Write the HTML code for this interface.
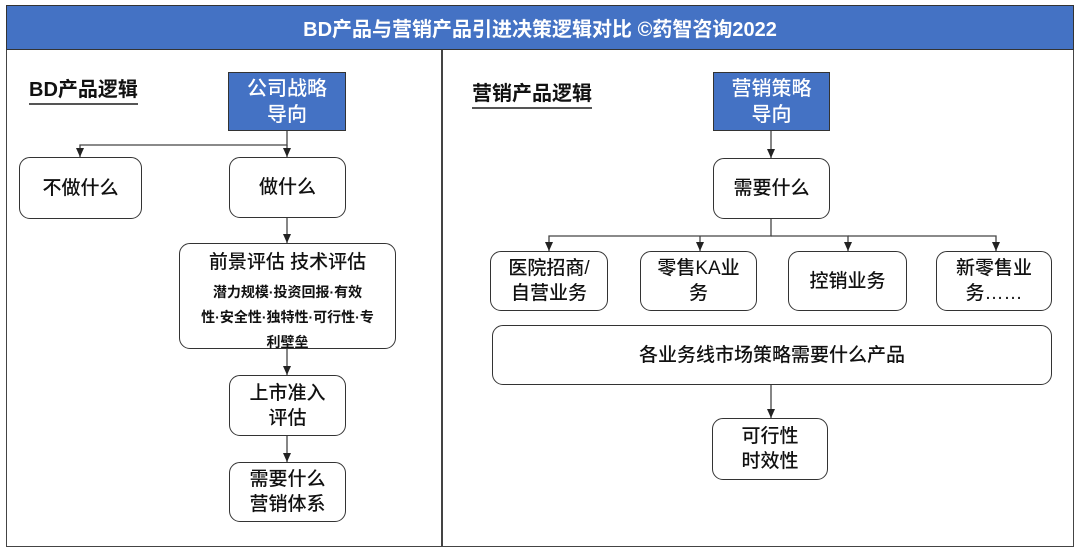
<!DOCTYPE html>
<html><head><meta charset="utf-8"><style>
body{margin:0;width:1080px;height:552px;background:#fff;position:relative;overflow:hidden;font-family:"Liberation Sans","Noto Sans CJK SC",sans-serif;}
.b{position:absolute;box-sizing:border-box;border:1.5px solid #333;border-radius:11px;background:#fff;display:flex;align-items:center;justify-content:center;text-align:center;font-size:19px;line-height:25px;color:#111;font-weight:500;}
.blue{position:absolute;box-sizing:border-box;border:1.5px solid #333;background:#4472c4;color:#fff;display:flex;align-items:center;justify-content:center;text-align:center;font-size:20px;line-height:26px;font-weight:500;}
.t{position:absolute;font-weight:bold;font-size:20px;color:#111;border-bottom:2px solid #555;line-height:25px;}
</style></head><body>
<div style="position:absolute;left:6px;top:5px;width:1068px;height:542px;box-sizing:border-box;border:1.5px solid #444;"></div>
<div style="position:absolute;left:6px;top:5px;width:1068px;height:45px;background:#4472c4;border:1.5px solid #333;box-sizing:border-box;color:#fff;font-weight:bold;font-size:20px;display:flex;align-items:center;justify-content:center;">BD产品与营销产品引进决策逻辑对比 ©药智咨询2022</div>
<div style="position:absolute;left:441px;top:50px;width:1.5px;height:497px;background:#444;"></div>
<div class="t" style="left:29px;top:78px;">BD产品逻辑</div>
<div class="t" style="left:472px;top:82px;">营销产品逻辑</div>
<svg style="position:absolute;left:0;top:0" width="1080" height="552">
<defs><marker id="a" markerWidth="9" markerHeight="8" refX="9" refY="4" orient="auto" markerUnits="userSpaceOnUse"><path d="M0,0 L9,4 L0,8z" fill="#222"/></marker></defs>
<g stroke="#444" stroke-width="1.3" fill="none">
<path d="M287 131 V145 H80 V157" marker-end="url(#a)"/>
<path d="M287 145 V157" marker-end="url(#a)"/>
<path d="M287 218 V243" marker-end="url(#a)"/>
<path d="M287 349 V375" marker-end="url(#a)"/>
<path d="M287 436 V462" marker-end="url(#a)"/>
<path d="M771 131 V158" marker-end="url(#a)"/>
<path d="M771 219 V236 H549 V251" marker-end="url(#a)"/>
<path d="M700 236 V251" marker-end="url(#a)"/>
<path d="M771 236 H848 V251" marker-end="url(#a)"/>
<path d="M848 236 H996 V251" marker-end="url(#a)"/>
<path d="M771 385 V418" marker-end="url(#a)"/>
</g></svg>
<div class="blue" style="left:228px;top:72px;width:118px;height:59px;">公司战略<br>导向</div>
<div class="b" style="left:19px;top:157px;width:123px;height:62px;">不做什么</div>
<div class="b" style="left:229px;top:157px;width:117px;height:61px;">做什么</div>
<div class="b" style="left:179px;top:243px;width:217px;height:106px;align-items:flex-start;"></div>
<div style="position:absolute;left:179px;top:250px;width:217px;text-align:center;font-size:19px;line-height:25px;font-weight:500;color:#111;">前景评估 技术评估</div>
<div style="position:absolute;left:179px;top:280px;width:217px;text-align:center;font-size:14px;line-height:25px;font-weight:bold;color:#111;white-space:nowrap;">潜力规模·投资回报·有效<br>性·安全性·独特性·可行性·专<br>利壁垒</div>
<div class="b" style="left:229px;top:375px;width:117px;height:61px;">上市准入<br>评估</div>
<div class="b" style="left:229px;top:462px;width:117px;height:60px;">需要什么<br>营销体系</div>
<div class="blue" style="left:713px;top:72px;width:117px;height:59px;">营销策略<br>导向</div>
<div class="b" style="left:713px;top:158px;width:117px;height:61px;">需要什么</div>
<div class="b" style="left:490px;top:251px;width:118px;height:60px;">医院招商/<br>自营业务</div>
<div class="b" style="left:640px;top:251px;width:117px;height:60px;">零售KA业<br>务</div>
<div class="b" style="left:788px;top:251px;width:119px;height:60px;">控销业务</div>
<div class="b" style="left:936px;top:251px;width:116px;height:60px;">新零售业<br>务……</div>
<div class="b" style="left:492px;top:325px;width:560px;height:60px;">各业务线市场策略需要什么产品</div>
<div class="b" style="left:712px;top:418px;width:116px;height:62px;">可行性<br>时效性</div>
</body></html>
